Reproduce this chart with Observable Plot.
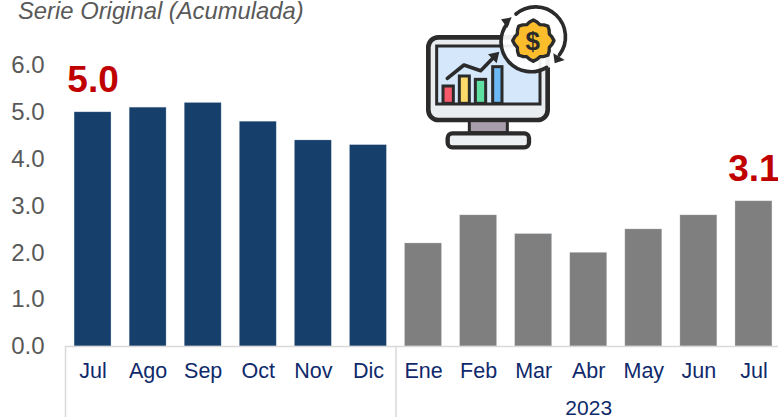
<!DOCTYPE html>
<html>
<head>
<meta charset="utf-8">
<script src="https://cdn.jsdelivr.net/npm/d3@7"></script>
<script src="https://cdn.jsdelivr.net/npm/@observablehq/plot@0.6"></script>
<style>
html,body{margin:0;padding:0;background:#fff;overflow:hidden}
#wrap{position:relative;width:778px;height:417px;font-family:"Liberation Sans",Arial,sans-serif}
#title{position:absolute;left:18px;top:1px;line-height:20px;font-size:23.8px;font-style:italic;color:#595959;white-space:nowrap}
#icon{position:absolute;left:400px;top:0}
</style>
</head>
<body>
<div id="wrap">
<div id="chart"></div>
<div id="title">Serie Original (Acumulada)</div>
<svg id="icon" width="190" height="160" viewBox="0 0 570 480">
  <rect x="85" y="112" width="358" height="248" rx="30" fill="#e9edf0" stroke="#2b2b2b" stroke-width="14"/>
  <rect x="110" y="138" width="310" height="174" fill="#d5e8fb" stroke="#2b2b2b" stroke-width="9"/>
  <rect x="208" y="362" width="114" height="36" fill="#a89dab" stroke="#2b2b2b" stroke-width="9"/>
  <rect x="143" y="400" width="244" height="42" rx="14" fill="#edf0f2" stroke="#2b2b2b" stroke-width="13"/>
  <g stroke="#2b2b2b" stroke-width="9">
    <rect x="129" y="258" width="31" height="52" fill="#f7596b"/>
    <rect x="178" y="228" width="30" height="82" fill="#fcd969"/>
    <rect x="226" y="238" width="31" height="72" fill="#5fe0a3"/>
    <rect x="278" y="200" width="28" height="110" fill="#6db8f7"/>
  </g>
  <polyline points="142,235 192,195 242,212 285,168" fill="none" stroke="#2b2b2b" stroke-width="11" stroke-linecap="round" stroke-linejoin="round"/>
  <polygon points="298,155 264,163 290,190" fill="#2b2b2b"/>
  <circle cx="398" cy="122" r="95" fill="#fff" fill-opacity="0.92"/>
  <polygon id="gear" fill="#fcbd2c" stroke="#2b2b2b" stroke-width="10" stroke-linejoin="round"/>
  <text x="398" y="150" text-anchor="middle" font-size="78" font-weight="700" fill="#2b2b2b" font-family="Liberation Sans">$</text>
  <path d="M348,42 A90,90 0 0 1 478,165" fill="none" stroke="#2b2b2b" stroke-width="11" stroke-linecap="round"/>
  <polygon points="458,162 492,182 462,192" fill="#2b2b2b" transform="translate(2,-2)"/>
  <path d="M440,202 A90,90 0 0 1 322,70" fill="none" stroke="#2b2b2b" stroke-width="11" stroke-linecap="round"/>
  <polygon points="303,58 335,52 322,84" fill="#2b2b2b"/>
</svg>
</div>
<script>
const months = ["Jul","Ago","Sep","Oct","Nov","Dic","Ene","Feb","Mar","Abr","May","Jun","Jul"];
const values = [5.0,5.1,5.2,4.8,4.4,4.3,2.2,2.8,2.4,2.0,2.5,2.8,3.1];
const navy = "#173f6b", gray = "#7f7f7f";
const barColors = [navy,navy,navy,navy,navy,navy,gray,gray,gray,gray,gray,gray,gray];
const yTicks = [0,1,2,3,4,5,6];
const highlighted = [0,12];
const yearLabel = "2023";
const yearCenterIndex = 9;
const separators = [0,6];

const idx = months.map((_,i)=>i);
const step = 55.07;

const pts=[];
for(let i=0;i<32;i++){const r=i%4==0?62:(i%4==2?52:57);const a=i*Math.PI/16;pts.push((400+r*Math.cos(a)).toFixed(1)+","+(122+r*Math.sin(a)).toFixed(1));}
document.getElementById("gear").setAttribute("points",pts.join(" "));

const chart = Plot.plot({
  width:778, height:417,
  marginLeft:65, marginRight:-3, marginTop:65, marginBottom:71,
  style:{fontFamily:'"Liberation Sans",Arial,sans-serif',background:"transparent",overflow:"visible"},
  x:{domain:idx,paddingInner:0.33,paddingOuter:0.165,round:false,label:null,axis:null},
  y:{domain:[0,6],label:null,axis:null},
  marks:[
    Plot.barY(idx,{x:d=>d,y:d=>values[d],fill:d=>barColors[d],stroke:"#cfd8e3",strokeWidth:0.5,strokeOpacity:0.6}),
    Plot.ruleY([0],{stroke:"#d9d9d9",strokeWidth:1.5}),
    Plot.ruleX(separators,{x:d=>d,dx:-step/2,y1:0,y2:-1.52,stroke:"#d9d9d9",strokeWidth:1.5,clip:false}),
    Plot.axisY(yTicks,{anchor:"left",tickSize:0,tickPadding:21,tickFormat:d=>d.toFixed(1),fontSize:24,fill:"#595959",label:null}),
    Plot.text(idx,{x:d=>d,y:-0.535,text:d=>months[d],fontSize:21.5,fill:"#0f2a6b"}),
    Plot.text(highlighted,{x:d=>d,y:d=>values[d],text:d=>values[d].toFixed(1),dy:-32,fontSize:37,fontWeight:700,fill:"#c00000"}),
    Plot.text([yearLabel],{x:()=>yearCenterIndex,y:-1.32,text:d=>d,fontSize:21,fill:"#0f2a6b"})
  ]
});
document.getElementById("chart").appendChild(chart);
</script>
</body>
</html>
